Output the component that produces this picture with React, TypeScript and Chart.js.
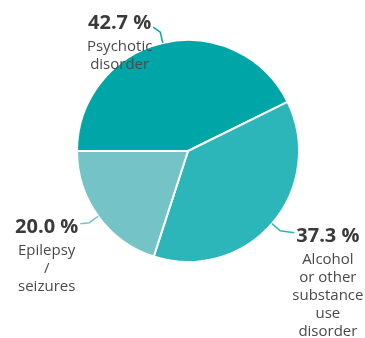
import React, { useEffect, useRef } from "react";
import { Chart, registerables } from "chart.js";

Chart.register(...registerables);

const categories = ["Psychotic disorder", "Alcohol or other substance use disorder", "Epilepsy / seizures"];
const values = [42.7, 37.3, 20.0];
const labelLines = [["Psychotic", "disorder"], ["Alcohol", "or other", "substance", "use", "disorder"], ["Epilepsy", "/", "seizures"]];
const colors = ["#00a6a7", "#2db6b9", "#74c3c6"];

// label placement relative to the leader elbow (style, not data)
const labelLayout = [
  { dx: -9, dy: -3, lineDy: -2 },
  { dx: 16, dy: 11, lineDy: -9 },
  { dx: -11, dy: 10, lineDy: -9 },
];

const labelPlugin = {
  id: "pieLabels",
  afterDatasetsDraw(chart: any) {
    const ctx = chart.ctx;
    const meta = chart.getDatasetMeta(0);
    meta.data.forEach((arc: any, i: number) => {
      const { x, y, startAngle, endAngle, outerRadius } = arc.getProps(["x", "y", "startAngle", "endAngle", "outerRadius"], true);
      const mid = (startAngle + endAngle) / 2;
      const cx = Math.cos(mid), cy = Math.sin(mid);
      const ex = x + cx * outerRadius, ey = y + cy * outerRadius;
      const bx = x + cx * (outerRadius + 11), by = y + cy * (outerRadius + 11);
      const lay = labelLayout[i];
      const right = cx >= 0;
      const tx = bx + lay.dx;
      const ty = by + lay.dy;
      const pct = values[i].toFixed(1) + " %";
      ctx.save();
      ctx.font = "bold 20px 'Open Sans'";
      const w = ctx.measureText(pct).width;
      // leader
      ctx.strokeStyle = colors[i];
      ctx.lineWidth = 1.5;
      ctx.beginPath();
      ctx.moveTo(ex, ey);
      ctx.lineTo(bx, by);
      ctx.lineTo(tx + (right ? -2 : 2), ty + lay.lineDy);
      ctx.stroke();
      ctx.fillStyle = "#3a3a3a";
      ctx.textBaseline = "alphabetic";
      ctx.textAlign = right ? "left" : "right";
      ctx.fillText(pct, tx, ty);
      const center = right ? tx + w / 2 : tx - w / 2;
      ctx.font = "15px 'Open Sans'";
      ctx.fillStyle = "#4a4a4a";
      ctx.textAlign = "center";
      labelLines[i].forEach((ln, k) => {
        ctx.fillText(ln, center, ty + 22 + 18 * k);
      });
      ctx.restore();
    });
  },
};

export default function App() {
  const ref = useRef<HTMLCanvasElement>(null);
  useEffect(() => {
    if (!ref.current) return;
    const chart = new Chart(ref.current, {
      type: "pie",
      data: {
        labels: categories,
        datasets: [
          {
            data: values,
            backgroundColor: colors,
            borderColor: "#ffffff",
            borderWidth: 2,
            hoverOffset: 0,
            offset: 0,
          },
        ],
      },
      options: {
        animation: false,
        responsive: true,
        maintainAspectRatio: false,
        rotation: -90,
        layout: { padding: { left: 76, top: 39, right: 65, bottom: 75 } },
        plugins: { legend: { display: false }, tooltip: { enabled: false } },
        events: [],
      },
      plugins: [labelPlugin],
    });
    return () => chart.destroy();
  }, []);
  return (
    <div style={{ position: "fixed", left: 0, top: 0, width: 365, height: 338, background: "#fff" }}>
      <canvas ref={ref} />
    </div>
  );
}
